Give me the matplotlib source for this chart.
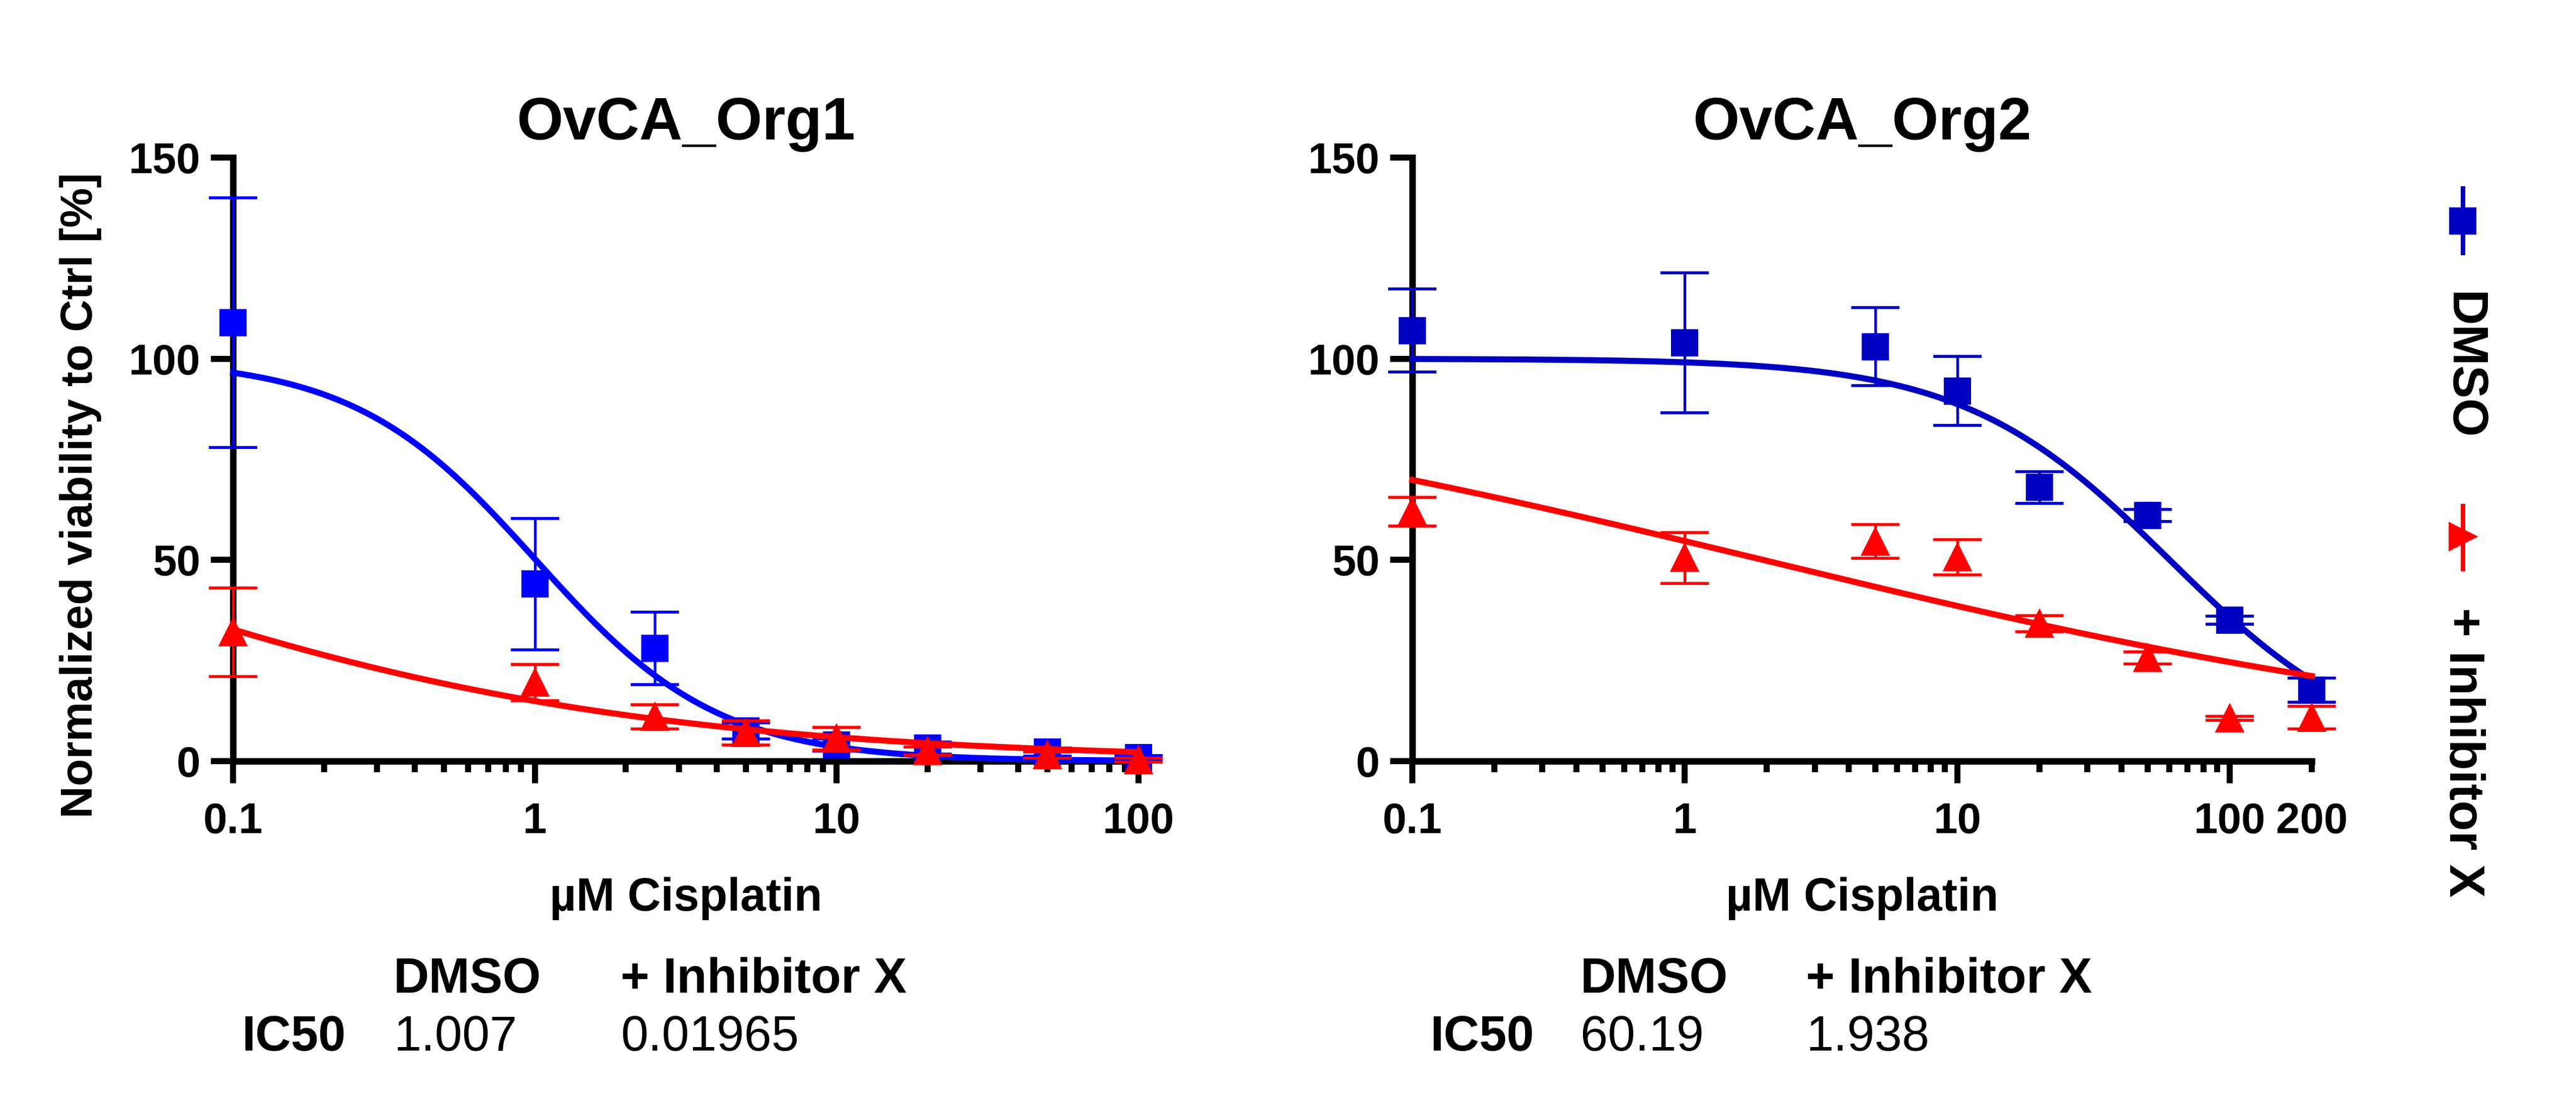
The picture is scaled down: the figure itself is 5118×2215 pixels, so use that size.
import numpy as np
import matplotlib
matplotlib.use("Agg")
import matplotlib.pyplot as plt
from matplotlib.lines import Line2D
from matplotlib.ticker import LogLocator, FuncFormatter, NullFormatter

plt.rcParams["font.family"] = ["Liberation Sans", "DejaVu Sans"]

# --- data ---
conc_org1 = [0.1, 1, 2.5, 5, 10, 20, 50, 100]
dmso_org1 = [109, 44, 28, 7.5, 4, 3.2, 2.2, 0.9]
dmso_org1_sd = [31, 16.3, 9, 2, 1.5, 1.5, 1, 0.5]
inh_org1 = [32, 19.5, 11, 7, 5.6, 2.5, 1.5, 0.2]
inh_org1_sd = [11, 4.5, 3, 3, 2.8, 1, 0.8, 0.5]

conc_org2 = [0.1, 1, 5, 10, 20, 50, 100, 200]
dmso_org2 = [107, 104, 103, 92, 68, 61, 35, 17.6]
dmso_org2_sd = [10.3, 17.4, 9.7, 8.6, 3.9, 1.5, 1, 3]
inh_org2 = [62, 50.5, 54.6, 50.7, 34.2, 25.6, 10.6, 10.8]
inh_org2_sd = [3.6, 6.3, 4.2, 4.4, 2, 1.5, 0.5, 2.8]

# fitted 4PL parameters: top, bottom, IC50, hill
fit_dmso_org1 = (100, 0, 1.007, 1.44)
fit_inh_org1 = (100, 0, 0.01965, 0.443)
fit_dmso_org2 = (100, 0, 60.19, 1.15)
fit_inh_org2 = (100, 0, 1.938, 0.284)

ic50_org1 = ["1.007", "0.01965"]
ic50_org2 = ["60.19", "1.938"]

W, H = 5118, 2215
fig = plt.figure(figsize=(W / 300, H / 300), dpi=300)


def fx(x):
    return x / W


def fy(y):
    return 1 - y / H


def four_pl(x, p):
    top, bottom, ic50, hill = p
    return bottom + (top - bottom) / (1 + (x / ic50) ** hill)


def panel(rect, title, conc, d, dsd, i, isd, fd, fi, xmax, blue, label200=False):
    ax = fig.add_axes(rect)
    xs = np.logspace(np.log10(0.1), np.log10(xmax), 300)
    ax.errorbar(conc, d, yerr=dsd, fmt="s", color=blue, ms=12, elinewidth=1.3,
                capsize=11.5, capthick=1.4, clip_on=False, zorder=3)
    ax.plot(xs, four_pl(xs, fd), color=blue, lw=2.9, clip_on=False, zorder=4)
    ax.errorbar(conc, i, yerr=isd, fmt="^", color="#FF0000", ms=12.5, elinewidth=1.3,
                capsize=11.5, capthick=1.4, clip_on=False, zorder=5)
    ax.plot(xs, four_pl(xs, fi), color="#FF0000", lw=2.9, clip_on=False, zorder=6)

    ax.set_xscale("log")
    ax.set_xlim(0.1, xmax)
    ax.set_ylim(0, 150)
    for s in ["top", "right"]:
        ax.spines[s].set_visible(False)
    for s in ["left", "bottom"]:
        ax.spines[s].set_linewidth(3.1)
    ax.set_yticks([0, 50, 100, 150])
    ax.set_yticklabels(["0", "50", "100", "150"])
    ax.set_xticks([0.1, 1, 10, 100])
    ax.set_xticklabels(["0.1", "1", "10", "100"])
    ax.xaxis.set_minor_locator(LogLocator(base=10, subs=np.arange(2, 10)))
    if label200:
        ax.xaxis.set_minor_formatter(FuncFormatter(lambda v, p: "200" if abs(v - 200) < 1e-6 else ""))
    else:
        ax.xaxis.set_minor_formatter(NullFormatter())
    ax.tick_params(which="major", length=10.5, width=2.9, labelsize=20.5, direction="out")
    ax.tick_params(axis="x", which="major", pad=9)
    ax.tick_params(axis="y", which="major", pad=5)
    ax.tick_params(axis="x", which="minor", length=5.3, width=2.9, labelsize=20.5, pad=14.2)
    for lab in ax.get_xticklabels(which="both") + ax.get_yticklabels():
        lab.set_fontweight("bold")
    ax.set_title(title, fontsize=28.5, fontweight="bold", pad=8.6)
    return ax


ax1 = panel([fx(463), fy(1512), fx(2262) - fx(463), fy(313) - fy(1512)], "OvCA_Org1",
            conc_org1, dmso_org1, dmso_org1_sd, inh_org1, inh_org1_sd,
            fit_dmso_org1, fit_inh_org1, 100, "#0000FF")
ax2 = panel([fx(2806), fy(1512), fx(4593) - fx(2806), fy(313) - fy(1512)], "OvCA_Org2",
            conc_org2, dmso_org2, dmso_org2_sd, inh_org2, inh_org2_sd,
            fit_dmso_org2, fit_inh_org2, 200, "#0000C0", label200=True)
for lab in ax2.get_xticklabels(which="minor"):
    lab.set_fontweight("bold")

fig.text(fx(160), fy(984), "Normalized viability to Ctrl [%]", rotation=90, ha="center",
         va="center", fontsize=21.3, fontweight="bold")

for ax_left, ax_right, vals, cols in [(463, 2262, ic50_org1, (481, 782, 1233)),
                                      (2806, 4593, ic50_org2, (2841, 3140, 3588))]:
    fig.text(fx((ax_left + ax_right) / 2), fy(1809), "\u00b5M Cisplatin", ha="center",
             va="baseline", fontsize=22, fontweight="bold")
    fig.text(fx(cols[1]), fy(1972), "DMSO", ha="left", va="baseline", fontsize=23.5, fontweight="bold")
    fig.text(fx(cols[2]), fy(1972), "+ Inhibitor X", ha="left", va="baseline", fontsize=23.5, fontweight="bold")
    fig.text(fx(cols[0]), fy(2087), "IC50", ha="left", va="baseline", fontsize=23.5, fontweight="bold")
    fig.text(fx(cols[1]), fy(2087), vals[0], ha="left", va="baseline", fontsize=23.5)
    fig.text(fx(cols[2]), fy(2087), vals[1], ha="left", va="baseline", fontsize=23.5)

# legend on the right, rotated
lx = fx(4893)
fig.add_artist(Line2D([lx, lx], [fy(374), fy(502)], color="#0000C0", lw=2.2, transform=fig.transFigure))
fig.add_artist(Line2D([lx], [fy(439)], marker="s", ms=12, color="#0000C0", transform=fig.transFigure))
fig.add_artist(Line2D([lx, lx], [fy(1005), fy(1130)], color="#FF0000", lw=2.2, transform=fig.transFigure))
fig.add_artist(Line2D([lx], [fy(1066)], marker=">", ms=12.5, color="#FF0000", transform=fig.transFigure))
fig.text(lx, fy(580), "DMSO", rotation=-90, ha="center", va="top", fontsize=23.5, fontweight="bold")
fig.text(lx, fy(1207), "+ Inhibitor X", rotation=-90, ha="center", va="top", fontsize=23.8, fontweight="bold")

fig.savefig("out.png", dpi=300)
